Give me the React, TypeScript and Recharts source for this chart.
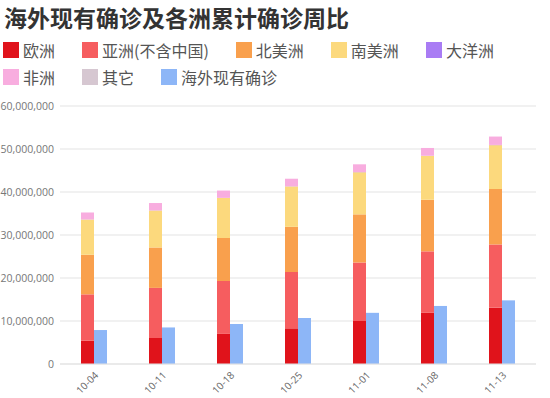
import React from 'react';
import { BarChart, Bar, XAxis, YAxis, CartesianGrid } from 'recharts';

const weeks = ['10-04', '10-11', '10-18', '10-25', '11-01', '11-08', '11-13'];

// 累计确诊 (人)
const europe = [5400000, 6050000, 7000000, 8300000, 10000000, 11900000, 13100000];
const asia = [10800000, 11650000, 12300000, 13100000, 13600000, 14300000, 14700000];
const northAmerica = [9200000, 9400000, 10000000, 10500000, 11200000, 12000000, 12900000];
const southAmerica = [8200000, 8600000, 9300000, 9400000, 9800000, 10200000, 10200000];
const oceania = [34000, 35000, 36000, 37000, 40000, 42000, 45000];
const africa = [1600000, 1700000, 1700000, 1750000, 1800000, 1800000, 1950000];
const others = [700, 700, 700, 700, 700, 700, 700];
const activeAbroad = [7900000, 8500000, 9300000, 10700000, 11900000, 13500000, 14800000];

const yTicks = [0, 10000000, 20000000, 30000000, 40000000, 50000000, 60000000];

const series = [
  { key: 'europe', name: '欧洲', color: '#e0131b', stack: 'total' },
  { key: 'asia', name: '亚洲(不含中国)', color: '#f65d5f', stack: 'total' },
  { key: 'northAmerica', name: '北美洲', color: '#f9a04d', stack: 'total' },
  { key: 'southAmerica', name: '南美洲', color: '#fcd97d', stack: 'total' },
  { key: 'oceania', name: '大洋洲', color: '#a97cf4', stack: 'total' },
  { key: 'africa', name: '非洲', color: '#f8addf', stack: 'total' },
  { key: 'others', name: '其它', color: '#d6c7d1', stack: 'total' },
  { key: 'activeAbroad', name: '海外现有确诊', color: '#8db6f7', stack: undefined },
];

const data = weeks.map((week, i) => ({
  week,
  europe: europe[i],
  asia: asia[i],
  northAmerica: northAmerica[i],
  southAmerica: southAmerica[i],
  oceania: oceania[i],
  africa: africa[i],
  others: others[i],
  activeAbroad: activeAbroad[i],
}));

const font = '"Noto Sans CJK SC", "Microsoft YaHei", sans-serif';
const tickFont = '"Open Sans", "Noto Sans", sans-serif';

export default function App() {
  return (
    <div
      style={{
        position: 'absolute',
        left: 0,
        top: 0,
        width: 550,
        height: 398,
        background: '#fff',
        fontFamily: font,
        overflow: 'hidden',
      }}
    >
      <BarChart
        width={550}
        height={398}
        data={data}
        margin={{ top: 106, right: 14, bottom: 0, left: 0 }}
        barSize={13}
        barGap={0}
        style={{ position: 'absolute', left: 0, top: 0 }}
      >
        <CartesianGrid vertical={false} stroke="#e3e3e3" />
        <XAxis
          dataKey="week"
          height={34}
          axisLine={{ stroke: '#e3e3e3' }}
          tickLine={false}
          interval={0}
          angle={-45}
          textAnchor="end"
          tick={{ fontSize: 10, fill: '#666', fontFamily: tickFont }}
          tickMargin={1}
        />
        <YAxis
          width={60}
          domain={[0, 60000000]}
          ticks={yTicks}
          axisLine={false}
          tickLine={false}
          tickSize={0}
          tickMargin={6}
          tick={{ fontSize: 10.5, fill: '#777', fontFamily: tickFont }}
          tickFormatter={(v: number) => v.toLocaleString('en-US')}
        />
        {series.map((s) => (
          <Bar
            key={s.key}
            dataKey={s.key}
            name={s.name}
            stackId={s.stack}
            fill={s.color}
            isAnimationActive={false}
          />
        ))}
      </BarChart>

      <div
        style={{
          position: 'absolute',
          left: 4,
          top: 2,
          fontSize: 23,
          fontWeight: 'bold',
          color: '#333',
          lineHeight: '30px',
          whiteSpace: 'nowrap',
        }}
      >
        海外现有确诊及各洲累计确诊周比
      </div>

      <div
        style={{
          position: 'absolute',
          left: 3,
          top: 39,
          width: 520,
          display: 'flex',
          flexWrap: 'wrap',
          rowGap: 5,
          columnGap: 27,
        }}
      >
        {series.map((s) => (
          <div
            key={s.key}
            style={{ display: 'flex', alignItems: 'center', height: 22, fontSize: 16, color: '#555' }}
          >
            <span
              style={{ display: 'inline-block', width: 16, height: 16, background: s.color, marginRight: 4 }}
            />
            <span>{s.name}</span>
          </div>
        ))}
      </div>
    </div>
  );
}
